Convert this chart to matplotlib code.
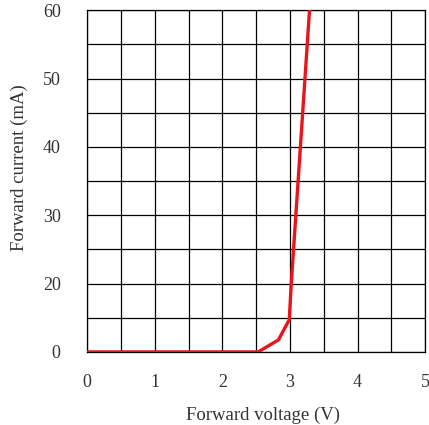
import numpy as np
import matplotlib
matplotlib.use("Agg")
import matplotlib.pyplot as plt

# forward voltage (V) / forward current (mA)
voltage = [0.0, 2.53, 2.83, 2.99, 3.02, 3.29]
current = [0.0, 0.0, 3.5, 9.4, 20.0, 60.0]

x_ticks = [0, 1, 2, 3, 4, 5]
y_ticks = [0, 20, 30, 40, 50, 60]


# the original axis puts 0..20 in the same space as 20..30
def fwd(v):
    v = np.asarray(v, dtype=float)
    return np.where(v <= 20, 10 + v / 2.0, v)


def inv(d):
    d = np.asarray(d, dtype=float)
    return np.where(d <= 20, (d - 10) * 2.0, d)


plt.rcParams['font.family'] = ['Liberation Serif', 'DejaVu Serif']

fig = plt.figure(figsize=(4.29, 4.25), dpi=100)
ax = fig.add_axes([0.203, 0.172, 0.788, 0.804])
ax.set_yscale('function', functions=(fwd, inv))

ax.plot(voltage, current, color='#e8151b', lw=2.4, solid_joinstyle='miter', zorder=3)

ax.set_xlim(0, 5)
ax.set_ylim(0, 60)
ax.set_xticks(x_ticks)
ax.set_yticks(y_ticks)
ax.set_xticks(np.arange(0, 5.01, 0.5), minor=True)
ax.set_yticks([10, 25, 35, 45, 55], minor=True)

ax.grid(True, which='both', color='black', lw=0.9)
ax.tick_params(which='both', length=0)
ax.tick_params(axis='x', pad=16, labelsize=13, colors='#333333')
ax.tick_params(axis='y', pad=19, labelsize=13, colors='#333333')
for s in ax.spines.values():
    s.set_color('black')
    s.set_linewidth(0.9)

ax.set_xlabel('Forward voltage (V)', fontsize=13.5, color='#333333')
ax.set_ylabel('Forward current (mA)', fontsize=13.5, color='#333333')
ax.yaxis.set_label_coords(-0.175, 0.54)
ax.xaxis.set_label_coords(0.52, -0.16)

fig.savefig('out.png', dpi=100)
